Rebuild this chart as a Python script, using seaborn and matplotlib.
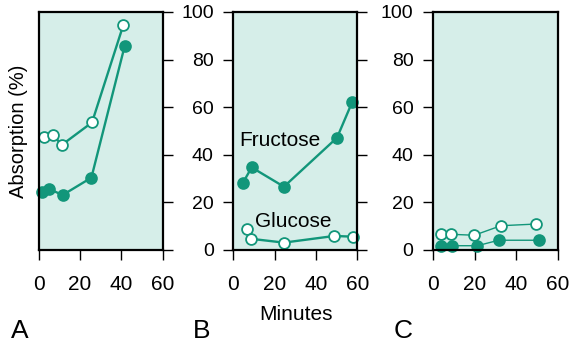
import matplotlib
matplotlib.use("Agg")
import matplotlib.pyplot as plt
import seaborn as sns
import pandas as pd

# Panel A
a_open_x = [2.7, 7.1, 11.1, 25.8, 40.9]
a_open_y = [47.6, 48.3, 44.1, 53.6, 94.4]
a_fill_x = [1.8, 5.1, 11.6, 25.5, 41.6]
a_fill_y = [24.2, 25.6, 23.1, 30.4, 85.7]
# Panel B
b_fru_x = [4.5, 8.9, 24.5, 50.2, 57.6]
b_fru_y = [28.0, 34.7, 26.6, 47.2, 62.3]
b_glu_x = [6.5, 8.6, 24.5, 48.9, 57.9]
b_glu_y = [8.7, 4.7, 3.1, 5.9, 5.6]
# Panel C
c_open_x = [3.7, 8.6, 19.8, 32.6, 49.2]
c_open_y = [6.6, 6.6, 6.2, 10.2, 10.9]
c_fill_x = [3.7, 8.9, 21.3, 31.5, 50.7]
c_fill_y = [1.8, 1.8, 1.8, 4.1, 4.1]

xticks = [0, 20, 40, 60]
yticks = [0, 20, 40, 60, 80, 100]
panel_letters = ["A", "B", "C"]

sns.set_theme(style="white")
plt.rcParams['font.family'] = ['Liberation Sans', 'DejaVu Sans']

GREEN = "#12967a"
BG = "#d6eee9"

W, H = 570, 343
fig = plt.figure(figsize=(W / 100, H / 100), dpi=100)

def px_axes(x0, x1, y0, y1):
    return fig.add_axes([x0 / W, 1 - y1 / H, (x1 - x0) / W, (y1 - y0) / H])

axA = px_axes(38.7, 162.7, 12, 250)
axB = px_axes(233.3, 357.3, 12, 250)
axC = px_axes(433, 558, 12, 250)

def series(ax, xs, ys, filled, lw, ms):
    df = pd.DataFrame({"x": xs, "y": ys})
    sns.lineplot(data=df, x="x", y="y", ax=ax, color=GREEN, linewidth=lw,
                 marker="o", markersize=ms,
                 markerfacecolor=GREEN if filled else "white",
                 markeredgecolor=GREEN, markeredgewidth=1.3,
                 estimator=None, sort=False, clip_on=False)

series(axA, a_open_x, a_open_y, False, 1.7, 7.8)
series(axA, a_fill_x, a_fill_y, True, 1.7, 7.8)
series(axB, b_fru_x, b_fru_y, True, 1.7, 7.8)
series(axB, b_glu_x, b_glu_y, False, 1.7, 7.8)
series(axC, c_open_x, c_open_y, False, 1.0, 7.8)
series(axC, c_fill_x, c_fill_y, True, 1.0, 7.8)

for ax in (axA, axB, axC):
    ax.set_facecolor(BG)
    ax.set_xlim(0, 60)
    ax.set_ylim(0, 100)
    ax.set_xticks(xticks)
    ax.set_yticks(yticks)
    ax.set_xlabel("")
    ax.set_ylabel("")
    for s in ax.spines.values():
        s.set_visible(True)
        s.set_color("black")
        s.set_linewidth(1.6)
    ax.tick_params(axis="x", direction="out", length=7, width=1.0,
                   pad=11, labelsize=15, colors="black", bottom=True)
    ax.tick_params(axis="y", direction="out", length=7, width=1.0,
                   pad=7, labelsize=14, colors="black")

axA.tick_params(axis="y", left=False, labelleft=False, right=True, labelright=False)
axB.tick_params(axis="y", left=True, labelleft=True, right=True, labelright=False)
axC.tick_params(axis="y", left=True, labelleft=True, right=False, labelright=False)

axB.text(22.4, 46.2, "Fructose", ha="center", va="center", fontsize=15, color="black")
axB.text(28.8, 11.8, "Glucose", ha="center", va="center", fontsize=15, color="black")

fig.text(19 / W, 1 - 131 / H, "Absorption (%)", rotation=90, ha="center", va="center",
         fontsize=14.5, color="black")
fig.text(296 / W, 1 - 314 / H, "Minutes", ha="center", va="center", fontsize=15, color="black")

for lx, letter in zip([11, 193, 394], panel_letters):
    fig.text(lx / W, 0.5 / H, letter, ha="left", va="bottom", fontsize=19, color="black")

fig.savefig("out.png", dpi=100)
